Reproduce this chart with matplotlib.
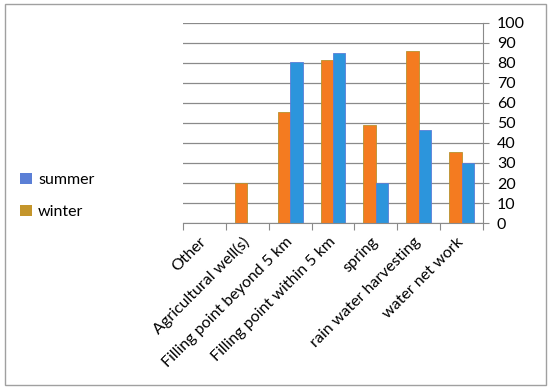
import matplotlib
matplotlib.use("Agg")
import matplotlib.pyplot as plt
from matplotlib.patches import Rectangle, Patch
import numpy as np

categories = ["Other", "Agricultural well(s)", "Filling point beyond 5 km",
              "Filling point within 5 km", "spring", "rain water harvesting",
              "water net work"]
winter = [0, 20, 55.5, 81.5, 49, 86, 35.5]
summer = [0, 0, 80.5, 85, 20, 46.5, 30]
yticks = list(range(0, 101, 10))

plt.rcParams['font.family'] = ['Lato', 'DejaVu Sans']

fig = plt.figure(figsize=(5.5, 3.91), dpi=100)
ax = fig.add_axes([183/550, 1-223/391, 300/550, 200/391])

x = np.arange(len(categories))
w = 0.29
ax.bar(x - w/2, winter, w, color="#F47B20", edgecolor="#B8922E", linewidth=0.6)
ax.bar(x + w/2, summer, w, color="#2C95DC", edgecolor="#5A7ED8", linewidth=0.6)

ax.set_xlim(-0.5, len(categories) - 0.5)
ax.set_ylim(0, 100)
ax.set_yticks(yticks)
ax.yaxis.tick_right()
ax.yaxis.set_label_position("right")
ax.grid(axis='y', color="#8a8a8a", linewidth=0.9)
ax.set_axisbelow(True)
for s in ["top", "left"]:
    ax.spines[s].set_visible(False)
ax.spines["right"].set_color("#8a8a8a")
ax.spines["bottom"].set_color("#8a8a8a")
ax.tick_params(axis='y', length=4, color="#8a8a8a", labelsize=11.5, pad=6)

ax.set_xticks(np.arange(-0.5, len(categories), 1.0))
ax.set_xticklabels([])
ax.tick_params(axis='x', which='major', length=5, color="#8a8a8a")
ax.set_xticks(x, minor=True)
ax.set_xticklabels(categories, minor=True, rotation=45, ha='right',
                   va='center', rotation_mode='anchor', fontsize=11.5)
ax.tick_params(axis='x', which='minor', length=0, pad=12)

handles = [Patch(facecolor="#5B7FD6", edgecolor="none"),
           Patch(facecolor="#C4952B", edgecolor="none")]
fig.legend(handles, ["summer", "winter"], loc='center left',
           bbox_to_anchor=(6/550, 1-196/391), frameon=False, fontsize=11.5,
           handlelength=0.7, handleheight=0.7, handletextpad=0.4,
           labelspacing=1.1)

fig.patches.append(Rectangle((5/550, 6/391), 541/550, 381/391,
                             transform=fig.transFigure, fill=False,
                             edgecolor="#a0a0a0", linewidth=1.0))

fig.savefig("out.png", dpi=100)
